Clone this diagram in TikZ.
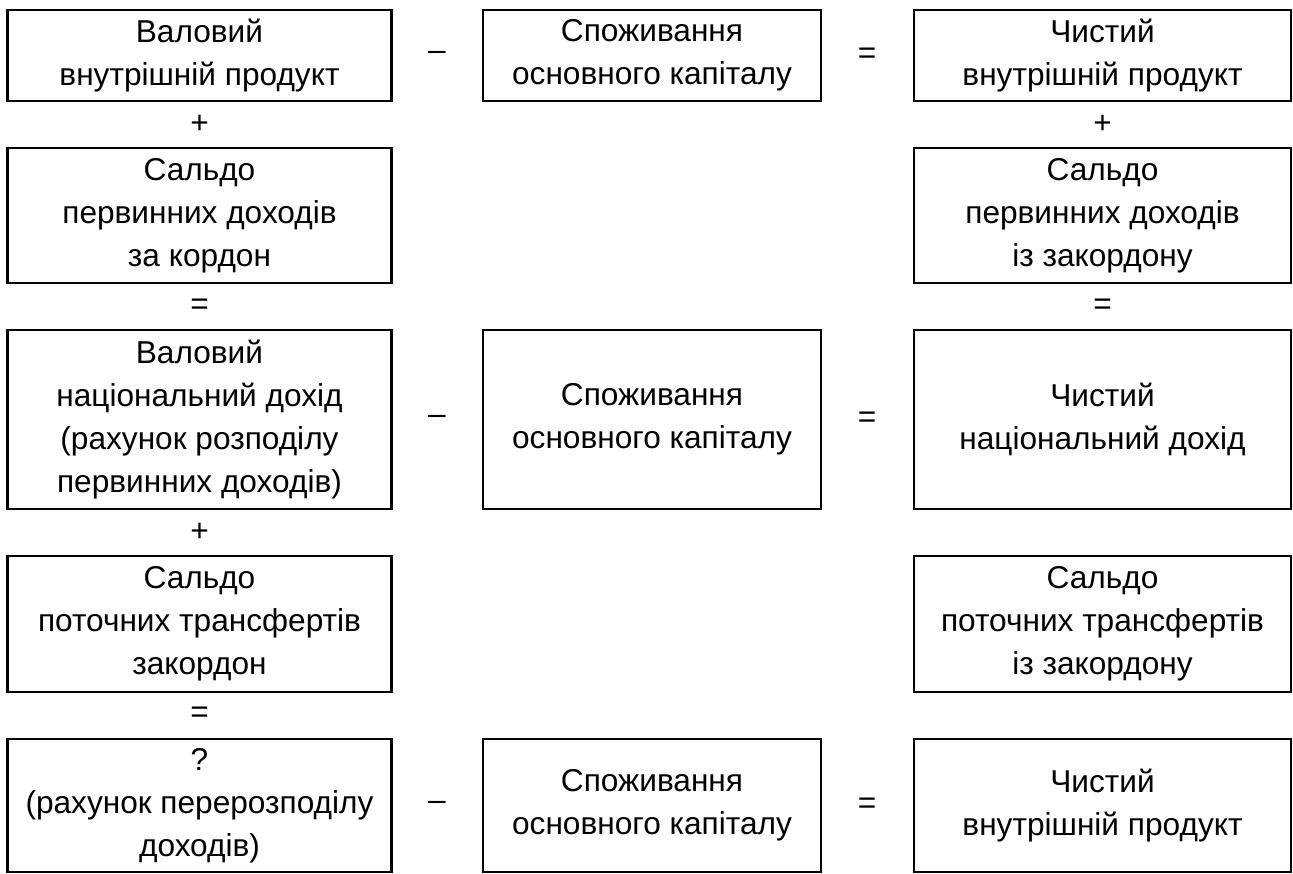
\documentclass[tikz,border=0pt]{standalone}
\usepackage{fontspec}
\setmainfont{Liberation Sans}
\newcommand\boxfont{\fontsize{18pt}{24.5pt}\selectfont}

\begin{document}
\begin{tikzpicture}[x=0.02cm, y=-0.02cm,
  box/.style={draw, line width=1.6pt, rectangle, inner sep=0pt, align=center,
    font=\boxfont},
  lbox/.style={box, minimum width=7.68cm},
  mbox/.style={box, minimum width=6.76cm},
  rbox/.style={box, minimum width=7.54cm},
  op/.style={inner sep=0pt, font=\boxfont}]
\useasboundingbox (0,0) rectangle (1293,874);

% left column
\draw (199.5,55.5) node (VVP) [lbox,minimum height=1.82cm] {Валовий\\внутрішній продукт};
\draw (199.5,215.5) node (SPDza) [lbox,minimum height=2.7cm] {Сальдо\\первинних доходів\\за кордон};
\draw (199.5,419.5) node (VND) [lbox,minimum height=3.58cm] {Валовий\\національний дохід\\(рахунок розподілу\\первинних доходів)};
\draw (199.5,624) node (SPTza) [lbox,minimum height=2.72cm] {Сальдо\\поточних трансфертів\\закордон};
\draw (199.5,805.5) node (Q) [lbox,minimum height=2.66cm] {?\\(рахунок перерозподілу\\доходів)};

% middle column
\draw (652,55.5) node (SOK1) [mbox,minimum height=1.82cm] {Споживання\\основного капіталу};
\draw (652,419.5) node (SOK2) [mbox,minimum height=3.58cm] {Споживання\\основного капіталу};
\draw (652,805.5) node (SOK3) [mbox,minimum height=2.66cm] {Споживання\\основного капіталу};

% right column
\draw (1102.5,55.5) node (CHVP) [rbox,minimum height=1.82cm] {Чистий\\внутрішній продукт};
\draw (1102.5,215.5) node (SPDiz) [rbox,minimum height=2.7cm] {Сальдо\\первинних доходів\\із закордону};
\draw (1102.5,419.5) node (CHND) [rbox,minimum height=3.58cm] {Чистий\\національний дохід};
\draw (1102.5,624) node (SPTiz) [rbox,minimum height=2.72cm] {Сальдо\\поточних трансфертів\\із закордону};
\draw (1102.5,805.5) node (CHVP2) [rbox,minimum height=2.66cm] {Чистий\\внутрішній продукт};

% operators between rows
\draw (199.5,124) node (plusL1) [op] {+};
\draw (199.5,307) node (eqL1) [op] {=};
\draw (199.5,532) node (plusL2) [op] {+};
\draw (199.5,715) node (eqL2) [op] {=};
\draw (1102.5,124) node (plusR1) [op] {+};
\draw (1102.5,307) node (eqR1) [op] {=};

% operators between columns
\draw (437,55.5) node (minus1) [op] {–};
\draw (867,55.5) node (eq1) [op] {=};
\draw (437,419.5) node (minus2) [op] {–};
\draw (867,419.5) node (eq2) [op] {=};
\draw (437,805.5) node (minus3) [op] {–};
\draw (867,805.5) node (eq3) [op] {=};

\end{tikzpicture}
\end{document}
